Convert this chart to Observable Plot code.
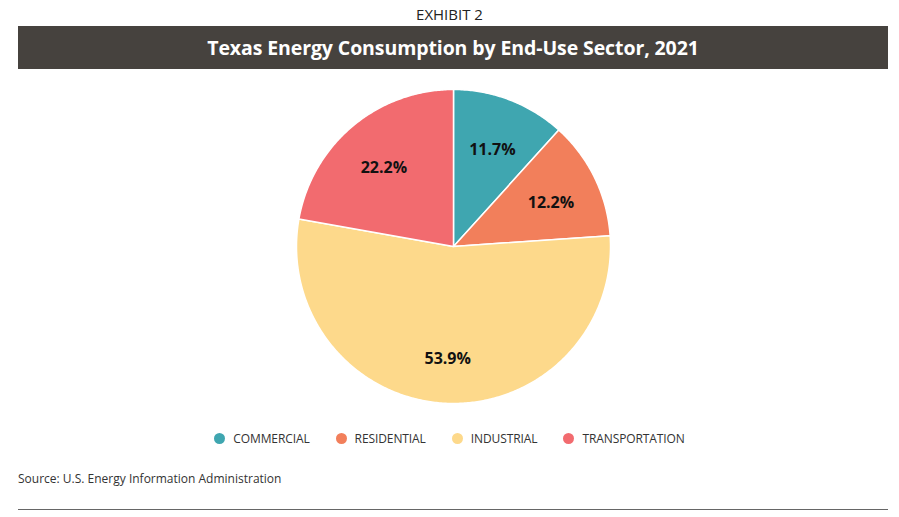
<!DOCTYPE html>
<html>
<head>
<meta charset="utf-8">
<script src="https://cdn.jsdelivr.net/npm/d3@7"></script>
<script src="https://cdn.jsdelivr.net/npm/@observablehq/plot@0.6"></script>
<style>
  body { margin: 0; background: #fff; font-family: "Open Sans", sans-serif; }
  #wrap { width: 899px; }
  .exhibit { text-align: center; font-size: 15px; color: #222; height: 26px; line-height: 28px; }
  .band { margin: 0 11px 0 18px; height: 43px; background: #46423e; color: #fff; font-weight: 700; font-size: 19.5px; text-align: center; line-height: 43px; letter-spacing: -0.1px; }
  #chart { height: 340px; margin-top: 7px; }
  .legend { display: flex; justify-content: center; margin-top: 10px; height: 24px; align-items: center; font-size: 12px; color: #333; padding-left: 0; letter-spacing: -0.1px; }
  .legend span.item { display: inline-flex; align-items: center; margin: 0 13px; }
  .legend span.dot { width: 11px; height: 11px; border-radius: 50%; display: inline-block; margin-right: 8px; }
  .source { margin: 20px 0 0 18px; font-size: 12px; color: #333; height: 17px; line-height: 17px; }
  .rule { margin: 22px 0 0 18px; width: 870px; height: 1px; background: #666; }
</style>
</head>
<body>
<div id="wrap">
  <div class="exhibit">EXHIBIT 2</div>
  <div class="band">Texas Energy Consumption by End-Use Sector, 2021</div>
  <div id="chart"></div>
  <div class="legend" id="legend"></div>
  <div class="source">Source: U.S. Energy Information Administration</div>
  <div class="rule"></div>
</div>
<script>
const sectors = ["COMMERCIAL", "RESIDENTIAL", "INDUSTRIAL", "TRANSPORTATION"];
const shares = [11.7, 12.2, 53.9, 22.2];
const colors = ["#3fa6b0", "#f27f5b", "#fdd98b", "#f26b6f"];

const data = sectors.map((s, i) => ({sector: s, value: shares[i]}));
const arcs = d3.pie().sort(null).value(d => d.value)(data);

// Build sector outlines on the unit circle (angles from the pie layout)
const outline = [];
arcs.forEach(a => {
  const s = a.data.sector;
  outline.push({sector: s, x: 0, y: 0});
  const n = Math.max(2, Math.ceil((a.endAngle - a.startAngle) / 0.01));
  for (let k = 0; k <= n; k++) {
    const t = a.startAngle + (a.endAngle - a.startAngle) * k / n;
    outline.push({sector: s, x: Math.sin(t), y: Math.cos(t)});
  }
});
const labels = arcs.map(a => {
  const m = (a.startAngle + a.endAngle) / 2;
  return {sector: a.data.sector, x: 0.69 * Math.sin(m), y: 0.69 * Math.cos(m), text: a.data.value.toFixed(1) + "%"};
});

const plot = Plot.plot({
  width: 899,
  height: 340,
  marginLeft: 296,
  marginRight: 289,
  marginTop: 13,
  marginBottom: 13,
  x: {domain: [-1, 1], axis: null},
  y: {domain: [-1, 1], axis: null},
  color: {domain: sectors, range: colors},
  style: {fontFamily: "Open Sans, sans-serif"},
  marks: [
    Plot.line(outline, {x: "x", y: "y", z: "sector", fill: "sector", stroke: "#fff", strokeWidth: 1.5, curve: "linear-closed"}),
    Plot.text(labels, {x: "x", y: "y", text: "text", fill: "#111", fontSize: 16, fontWeight: 700, dy: 4})
  ]
});
document.getElementById("chart").appendChild(plot);

const lg = document.getElementById("legend");
sectors.forEach((s, i) => {
  const it = document.createElement("span");
  it.className = "item";
  it.innerHTML = `<span class="dot" style="background:${colors[i]}"></span>${s}`;
  lg.appendChild(it);
});
</script>
</body>
</html>
